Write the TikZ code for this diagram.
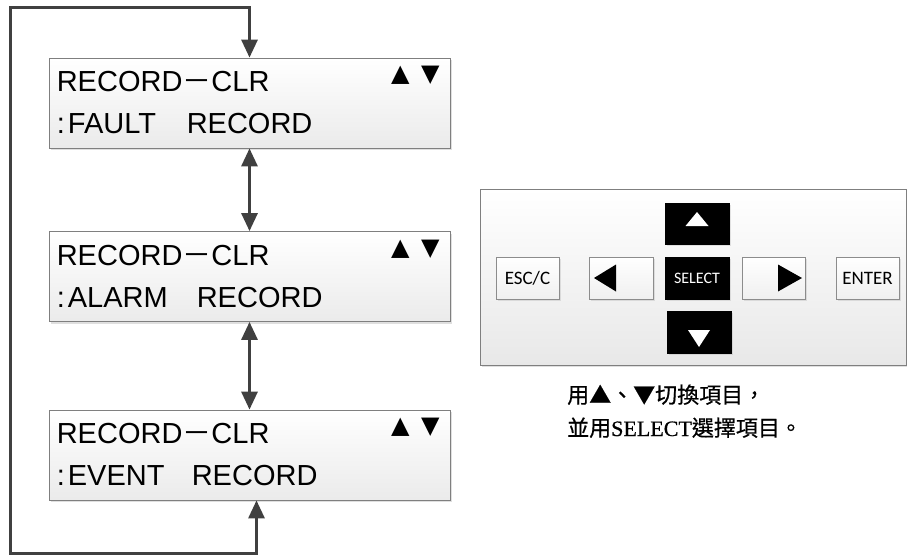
\documentclass[tikz,border=0pt]{standalone}
\usepackage{fontspec}
\setmainfont{Liberation Sans}
\newfontfamily\cjk{Noto Sans CJK TC}
\newfontfamily\cjkb{Noto Sans CJK TC}[FakeBold=0.6]
\newfontfamily\calib{Carlito}
\newfontfamily\serifl{Liberation Serif}[FakeBold=0.6]
\newfontfamily\symf{DejaVu Sans}
\usetikzlibrary{arrows.meta,shadows,calc}
\definecolor{conncol}{HTML}{404040}
\definecolor{bordcol}{HTML}{7F7F7F}
\begin{document}
\begin{tikzpicture}[x=1pt,y=-1pt,
  lcd/.style={draw=bordcol, line width=0.8pt, top color=white, bottom color=black!8,
    minimum width=401pt, minimum height=90pt, inner sep=0pt,
    drop shadow={shadow xshift=2pt,shadow yshift=-2pt,opacity=0.25}},
  lcdtxt/.style={anchor=base west, inner sep=0pt, font=\fontsize{29}{29}\selectfont},
  lcdsym/.style={anchor=base east, inner sep=0pt, font=\symf\fontsize{24}{24}\selectfont},
  conn/.style={draw=conncol, line width=3pt, >={Triangle[length=18pt,width=16pt]}},
  panel/.style={draw=bordcol, line width=0.8pt, top color=white, bottom color=black!9,
    minimum width=426pt, minimum height=176pt, inner sep=0pt,
    drop shadow={shadow xshift=2pt,shadow yshift=-2pt,opacity=0.25}},
  keybtn/.style={draw=black!45, line width=0.7pt, top color=white, bottom color=black!6,
    minimum width=63pt, minimum height=42pt, inner sep=0pt,
    font=\calib\fontsize{19}{19}\selectfont,
    drop shadow={shadow xshift=1.5pt,shadow yshift=-1.5pt,opacity=0.2}},
  blackbtn/.style={draw=black, fill=black, minimum width=64pt, minimum height=42pt, inner sep=0pt,
    text=white, font=\calib\fontsize{16}{16}\selectfont,
    drop shadow={shadow xshift=1.5pt,shadow yshift=-1.5pt,opacity=0.2}},
  note/.style={anchor=base west, inner sep=0pt, font=\cjkb\fontsize{22}{22}\selectfont}
]
\useasboundingbox (0,0) rectangle (907,555);

% LCD boxes
\node[lcd] (box1) at (249.5,103) {};
\node[lcd] (box2) at (249.5,276.5) {};
\node[lcd] (box3) at (249.5,455) {};

\foreach \b/\w/\g in {box1/FAULT/130pt, box2/ALARM/140pt, box3/EVENT/135pt}{
  \node[lcdtxt] at ([shift={(8,34)}]\b.north west) {RECORD{\cjk －}CLR};
  \node[lcdtxt] at ([shift={(8,76)}]\b.north west) {\makebox[\g][l]{:\hspace{3pt}\w}RECORD};
  \node[lcdsym] at ([shift={(-10.7,24)}]\b.north east) {▲\hspace{11.5pt}▼};
}

% connectors
\coordinate (lb) at (10,553);
\coordinate (lt) at (10,7);
\coordinate (rt) at (249.5,7);
\draw[conn,<->] ([xshift=7pt]box3.south) |- (lb) -- (lt) -- (rt) -- (box1.north);
\draw[conn,<->] (box1.south) -- (box2.north);
\draw[conn,<->] (box2.south) -- (box3.north);

% key panel
\node[panel] (panel) at (693,277) {};
\node[keybtn] (esc) at (527.5,278) {ESC/C};
\node[keybtn, minimum width=64pt] (left) at (621,278) {};
\node[blackbtn] (sel) at (697,278) {SELECT};
\node[keybtn] (right) at (773.5,278) {};
\node[keybtn] (enter) at (867.5,278) {ENTER};
\node[blackbtn, minimum height=41pt] (up) at (697,223.5) {};
\node[blackbtn] (down) at (699,332) {};

\fill[black] ([xshift=-27pt]left.center) -- ++(22,-13.5) -- ++(0,27) -- cycle;
\fill[black] ([xshift=28.5pt]right.center) -- ++(-24,-13.5) -- ++(0,27) -- cycle;
\fill[white] ([yshift=11.5pt]up.center) -- ++(11.5,14) -- ++(-23,0) -- cycle;
\fill[white] ([yshift=-15pt]down.center) -- ++(11,-17) -- ++(-22,0) -- cycle;

% note text
\node[note] (n1) at (567,403) {用▲、▼切換項目，};
\node[note] (n2) at (567,436) {並用{\serifl SELECT}選擇項目。};
\end{tikzpicture}
\end{document}
